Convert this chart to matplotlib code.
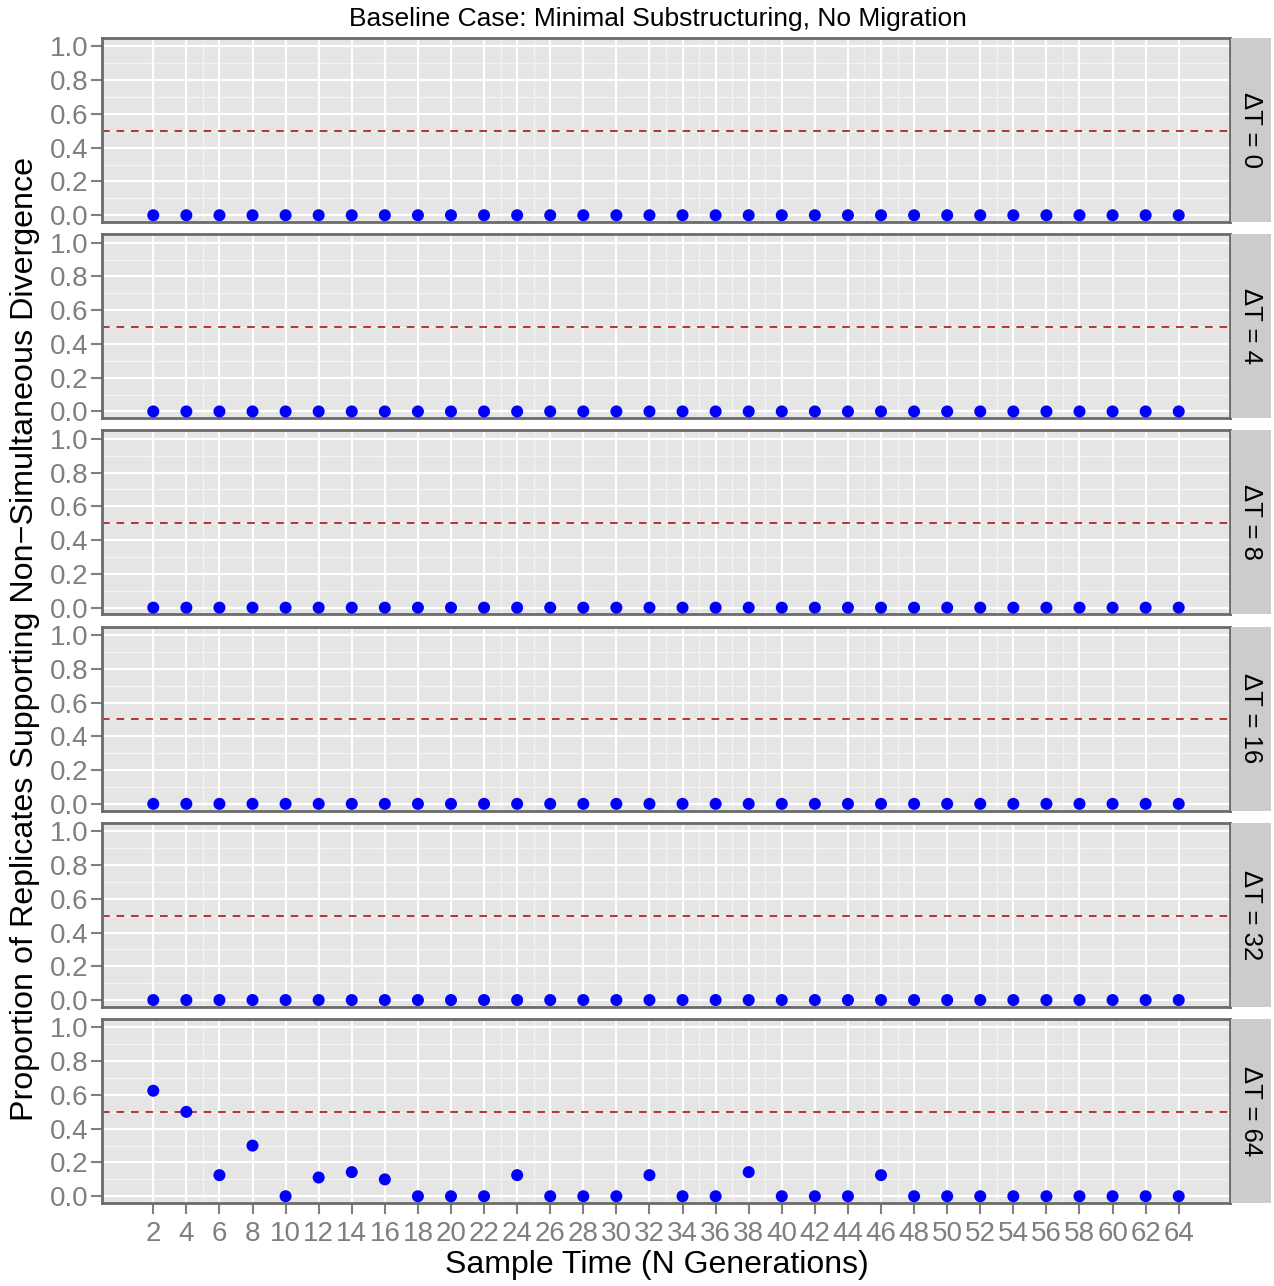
#------------------------------------------------------------------------
# PROPORTION OF REPLICATES SUPPORTING NON-SIMULTANEOUS DIVERGENCE
#------------------------------------------------------------------------
import numpy as np
import matplotlib
matplotlib.use('Agg')
import matplotlib.pyplot as plt

plt.rcParams['font.family'] = ['Liberation Sans', 'DejaVu Sans']

#------------------------------------------------------------------------
# DATA
sample_times = [2, 4, 6, 8, 10, 12, 14, 16, 18, 20, 22, 24, 26, 28, 30, 32,
                34, 36, 38, 40, 42, 44, 46, 48, 50, 52, 54, 56, 58, 60, 62, 64]
delta_t = [0, 4, 8, 16, 32, 64]

prop_dt0 = [0, 0, 0, 0, 0, 0, 0, 0, 0, 0, 0, 0, 0, 0, 0, 0,
            0, 0, 0, 0, 0, 0, 0, 0, 0, 0, 0, 0, 0, 0, 0, 0]
prop_dt4 = [0, 0, 0, 0, 0, 0, 0, 0, 0, 0, 0, 0, 0, 0, 0, 0,
            0, 0, 0, 0, 0, 0, 0, 0, 0, 0, 0, 0, 0, 0, 0, 0]
prop_dt8 = [0, 0, 0, 0, 0, 0, 0, 0, 0, 0, 0, 0, 0, 0, 0, 0,
            0, 0, 0, 0, 0, 0, 0, 0, 0, 0, 0, 0, 0, 0, 0, 0]
prop_dt16 = [0, 0, 0, 0, 0, 0, 0, 0, 0, 0, 0, 0, 0, 0, 0, 0,
             0, 0, 0, 0, 0, 0, 0, 0, 0, 0, 0, 0, 0, 0, 0, 0]
prop_dt32 = [0, 0, 0, 0, 0, 0, 0, 0, 0, 0, 0, 0, 0, 0, 0, 0,
             0, 0, 0, 0, 0, 0, 0, 0, 0, 0, 0, 0, 0, 0, 0, 0]
prop_dt64 = [0.625, 0.5, 0.125, 0.3, 0, 0.111, 0.143, 0.1, 0, 0, 0, 0.125, 0, 0, 0, 0.125,
             0, 0, 0.143, 0, 0, 0, 0.125, 0, 0, 0, 0, 0, 0, 0, 0, 0]
proportions = [prop_dt0, prop_dt4, prop_dt8, prop_dt16, prop_dt32, prop_dt64]

threshold = 0.5
y_ticks = [0.0, 0.2, 0.4, 0.6, 0.8, 1.0]
y_minor = [0.1, 0.3, 0.5, 0.7, 0.9]
x_minor = [5, 23, 25, 33, 35, 37, 39, 45, 47, 53, 57]

title = 'Baseline Case: Minimal Substructuring, No Migration'
xlabel = 'Sample Time (N Generations)'
ylabel = 'Proportion of Replicates Supporting Non\u2212Simultaneous Divergence'
#------------------------------------------------------------------------

#------------------------------------------------------------------------
# LAYOUT (pixels)
W, H = 1274, 1286
left, right = 102, 1230
strip_w = 40
top0, step, ph = 38, 196.2, 184
tick_grey = '#7F7F7F'
border = '#6B6B6B'
fs = 20

fig = plt.figure(figsize=(W / 100, H / 100), dpi=100)

x_span = sample_times[-1] - sample_times[0]
xlim = (sample_times[0] - 0.05 * x_span, sample_times[-1] + 0.05 * x_span)

for i, (dt, vals) in enumerate(zip(delta_t, proportions)):
    top = top0 + step * i
    ax = fig.add_axes([left / W, 1 - (top + ph) / H, (right - left) / W, ph / H])
    ax.set_facecolor('#E5E5E5')
    ax.set_xlim(*xlim)
    ax.set_ylim(-0.04, 1.05)

    # grid
    for yv in y_minor:
        ax.axhline(yv, color='#F2F2F2', lw=1.0, zorder=0)
    for xv in x_minor:
        ax.axvline(xv, color='#F2F2F2', lw=1.0, zorder=0)
    for yv in y_ticks:
        ax.axhline(yv, color='white', lw=1.6, zorder=0.5)
    for xv in sample_times:
        ax.axvline(xv, color='white', lw=1.6, zorder=0.5)

    ax.axhline(threshold, color='#A80000', lw=1.1, ls=(0, (5, 4.5)), zorder=2)
    ax.scatter(sample_times, vals, s=75, color='#0000FF', edgecolors='none', zorder=3)

    ax.set_yticks(y_ticks)
    ax.set_yticklabels(['%.1f' % v for v in y_ticks])
    ax.set_xticks(sample_times)
    if i == len(delta_t) - 1:
        ax.set_xticklabels([str(v) for v in sample_times])
        ax.tick_params(axis='x', length=8, width=1.5, color=tick_grey,
                       labelcolor=tick_grey, labelsize=fs, pad=5)
    else:
        ax.tick_params(axis='x', length=0, labelbottom=False)
    ax.tick_params(axis='y', length=8, width=1.5, color=tick_grey,
                   labelcolor=tick_grey, labelsize=fs, pad=2)
    for sp in ax.spines.values():
        sp.set_color(border)
        sp.set_linewidth(2.0)

    # facet strip on the right
    sax = fig.add_axes([(right + 1) / W, 1 - (top + ph) / H, strip_w / W, ph / H])
    sax.set_facecolor('#CCCCCC')
    sax.set_xticks([])
    sax.set_yticks([])
    for sp in sax.spines.values():
        sp.set_visible(False)
    sax.text(0.5, 0.5, '\u0394T = %d' % dt, rotation=-90, ha='center', va='center',
             fontsize=18.5, color='black', transform=sax.transAxes)

fig.text(658 / W, 1 - 19 / H, title, ha='center', va='center', fontsize=19)
fig.text(657 / W, 1 - 1265 / H, xlabel, ha='center', va='center', fontsize=23)
fig.text(25 / W, 1 - 639 / H, ylabel, ha='center', va='center', rotation=90, fontsize=23.2)

fig.savefig('out.png', dpi=100)
#------------------------------------------------------------------------
